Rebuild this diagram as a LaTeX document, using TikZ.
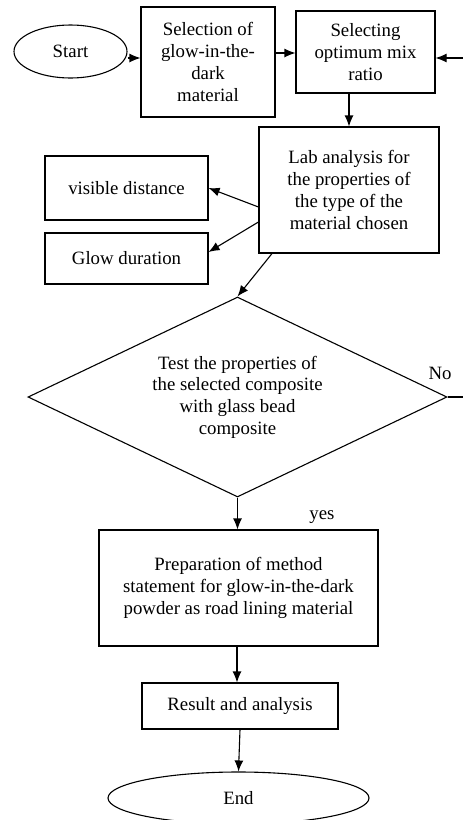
\documentclass[tikz,border=0pt]{standalone}
\usepackage{fontspec}
\setmainfont{Liberation Serif}
\newfontfamily\tnr{Liberation Serif}
\usetikzlibrary{shapes.geometric,arrows.meta}
\begin{document}
\begin{tikzpicture}[x=1pt,y=-1pt,
  every node/.style={font=\tnr\fontsize{18.8}{21.7}\selectfont},
  box/.style={draw, line width=1.1pt, inner sep=0pt, align=center},
  term/.style={draw, ellipse, line width=1.1pt, inner sep=0pt},
  decision/.style={draw, diamond, aspect=2.1, line width=1.1pt, inner sep=0pt, align=center},
  lbl/.style={inner sep=0pt},
  arr/.style={-{Latex[length=11pt,width=9pt]}, line width=1.1pt},
  ln/.style={line width=1.1pt}]
\useasboundingbox (0,0) rectangle (463,820);
\fill[white] (0,0) rectangle (463,820);

\node[term, minimum width=113pt, minimum height=53pt] (start) at (70.5,51.5) {Start};
\node[box, minimum width=134pt, minimum height=110pt] (sel) at (208,62) {Selection of\\glow-in-the-\\dark\\material};
\node[box, minimum width=139pt, minimum height=82pt] (mix) at (365.5,52) {Selecting\\optimum mix\\ratio};
\node[box, minimum width=180pt, minimum height=126pt] (lab) at (349,190) {Lab analysis for\\the properties of\\the type of the\\material chosen};
\node[box, minimum width=163pt, minimum height=64pt] (vis) at (126.5,188) {visible distance};
\node[box, minimum width=163pt, minimum height=51pt] (glow) at (126.5,258.5) {Glow duration};
\node[decision, minimum width=419pt, minimum height=200pt] (test) at (237.5,397) {Test the properties of\\the selected composite\\with glass bead\\composite};
\node[box, minimum width=279pt, minimum height=116pt] (prep) at (238.5,588) {Preparation of method\\statement for glow-in-the-dark\\powder as road lining material};
\node[box, minimum width=196pt, minimum height=46pt] (res) at (240,706) {Result and analysis};
\node[term, minimum width=261pt, minimum height=52pt] (end) at (238.5,798) {End};

\node[lbl] (no) at (440,373) {No};
\node[lbl] (yes) at (322,517) {yes};

\coordinate (redgeA) at (463,58);
\coordinate (redgeB) at (463,397);

\draw[arr] (start.east |- 0,58) -- (sel.west |- 0,58);
\draw[arr] (sel.east |- 0,53) -- (mix.west |- 0,53);
\draw[arr] (redgeA) -- (mix.east |- redgeA);
\draw[arr] (mix.south -| lab.north) -- (lab.north);
\draw[arr] (lab.west |- 0,207) -- (vis.east |- 0,188);
\draw[arr] (lab.west |- 0,222) -- (glow.east |- 0,252);
\draw[arr] (lab.south -| 272,0) -- (test.north);
\draw[ln] (test.east) -- (redgeB);
\draw[arr] (test.south) -- (prep.north -| test.south);
\draw[arr] (prep.south -| 237,0) -- (res.north -| 237,0);
\draw[arr] (res.south) -- (end.north);
\end{tikzpicture}
\end{document}
